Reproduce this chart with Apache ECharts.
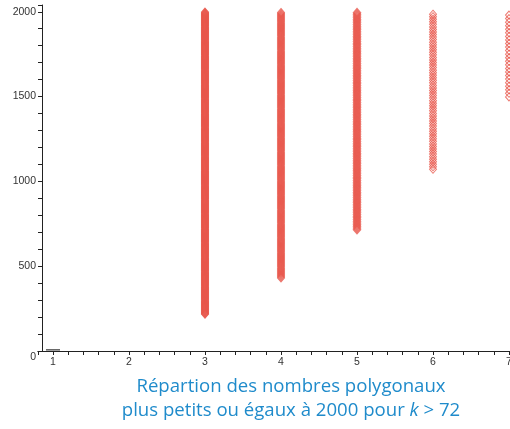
<!DOCTYPE html>
<html><head><meta charset="utf-8">
<script src="https://cdn.jsdelivr.net/npm/echarts@6/dist/echarts.min.js"></script>
<style>html,body{margin:0;padding:0;background:#fff}#c{width:510px;height:429px}</style>
</head><body><div id="c"></div>
<script>
// x positions (n) and polygonal values <= 2000 for k > 72, read per column
const xValues = [3, 4, 5, 6, 7];
const col3 = [216,219,222,225,228,231,234,237,240,243,246,249,252,255,258,261,264,267,270,273,276,279,282,285,288,291,294,297,300,303,306,309,312,315,318,321,324,327,330,333,336,339,342,345,348,351,354,357,360,363,366,369,372,375,378,381,384,387,390,393,396,399,402,405,408,411,414,417,420,423,426,429,432,435,438,441,444,447,450,453,456,459,462,465,468,471,474,477,480,483,486,489,492,495,498,501,504,507,510,513,516,519,522,525,528,531,534,537,540,543,546,549,552,555,558,561,564,567,570,573,576,579,582,585,588,591,594,597,600,603,606,609,612,615,618,621,624,627,630,633,636,639,642,645,648,651,654,657,660,663,666,669,672,675,678,681,684,687,690,693,696,699,702,705,708,711,714,717,720,723,726,729,732,735,738,741,744,747,750,753,756,759,762,765,768,771,774,777,780,783,786,789,792,795,798,801,804,807,810,813,816,819,822,825,828,831,834,837,840,843,846,849,852,855,858,861,864,867,870,873,876,879,882,885,888,891,894,897,900,903,906,909,912,915,918,921,924,927,930,933,936,939,942,945,948,951,954,957,960,963,966,969,972,975,978,981,984,987,990,993,996,999,1002,1005,1008,1011,1014,1017,1020,1023,1026,1029,1032,1035,1038,1041,1044,1047,1050,1053,1056,1059,1062,1065,1068,1071,1074,1077,1080,1083,1086,1089,1092,1095,1098,1101,1104,1107,1110,1113,1116,1119,1122,1125,1128,1131,1134,1137,1140,1143,1146,1149,1152,1155,1158,1161,1164,1167,1170,1173,1176,1179,1182,1185,1188,1191,1194,1197,1200,1203,1206,1209,1212,1215,1218,1221,1224,1227,1230,1233,1236,1239,1242,1245,1248,1251,1254,1257,1260,1263,1266,1269,1272,1275,1278,1281,1284,1287,1290,1293,1296,1299,1302,1305,1308,1311,1314,1317,1320,1323,1326,1329,1332,1335,1338,1341,1344,1347,1350,1353,1356,1359,1362,1365,1368,1371,1374,1377,1380,1383,1386,1389,1392,1395,1398,1401,1404,1407,1410,1413,1416,1419,1422,1425,1428,1431,1434,1437,1440,1443,1446,1449,1452,1455,1458,1461,1464,1467,1470,1473,1476,1479,1482,1485,1488,1491,1494,1497,1500,1503,1506,1509,1512,1515,1518,1521,1524,1527,1530,1533,1536,1539,1542,1545,1548,1551,1554,1557,1560,1563,1566,1569,1572,1575,1578,1581,1584,1587,1590,1593,1596,1599,1602,1605,1608,1611,1614,1617,1620,1623,1626,1629,1632,1635,1638,1641,1644,1647,1650,1653,1656,1659,1662,1665,1668,1671,1674,1677,1680,1683,1686,1689,1692,1695,1698,1701,1704,1707,1710,1713,1716,1719,1722,1725,1728,1731,1734,1737,1740,1743,1746,1749,1752,1755,1758,1761,1764,1767,1770,1773,1776,1779,1782,1785,1788,1791,1794,1797,1800,1803,1806,1809,1812,1815,1818,1821,1824,1827,1830,1833,1836,1839,1842,1845,1848,1851,1854,1857,1860,1863,1866,1869,1872,1875,1878,1881,1884,1887,1890,1893,1896,1899,1902,1905,1908,1911,1914,1917,1920,1923,1926,1929,1932,1935,1938,1941,1944,1947,1950,1953,1956,1959,1962,1965,1968,1971,1974,1977,1980,1983,1986,1989,1992,1995,1998];
const col4 = [430,436,442,448,454,460,466,472,478,484,490,496,502,508,514,520,526,532,538,544,550,556,562,568,574,580,586,592,598,604,610,616,622,628,634,640,646,652,658,664,670,676,682,688,694,700,706,712,718,724,730,736,742,748,754,760,766,772,778,784,790,796,802,808,814,820,826,832,838,844,850,856,862,868,874,880,886,892,898,904,910,916,922,928,934,940,946,952,958,964,970,976,982,988,994,1000,1006,1012,1018,1024,1030,1036,1042,1048,1054,1060,1066,1072,1078,1084,1090,1096,1102,1108,1114,1120,1126,1132,1138,1144,1150,1156,1162,1168,1174,1180,1186,1192,1198,1204,1210,1216,1222,1228,1234,1240,1246,1252,1258,1264,1270,1276,1282,1288,1294,1300,1306,1312,1318,1324,1330,1336,1342,1348,1354,1360,1366,1372,1378,1384,1390,1396,1402,1408,1414,1420,1426,1432,1438,1444,1450,1456,1462,1468,1474,1480,1486,1492,1498,1504,1510,1516,1522,1528,1534,1540,1546,1552,1558,1564,1570,1576,1582,1588,1594,1600,1606,1612,1618,1624,1630,1636,1642,1648,1654,1660,1666,1672,1678,1684,1690,1696,1702,1708,1714,1720,1726,1732,1738,1744,1750,1756,1762,1768,1774,1780,1786,1792,1798,1804,1810,1816,1822,1828,1834,1840,1846,1852,1858,1864,1870,1876,1882,1888,1894,1900,1906,1912,1918,1924,1930,1936,1942,1948,1954,1960,1966,1972,1978,1984,1990,1996];
const col5 = [715,725,735,745,755,765,775,785,795,805,815,825,835,845,855,865,875,885,895,905,915,925,935,945,955,965,975,985,995,1005,1015,1025,1035,1045,1055,1065,1075,1085,1095,1105,1115,1125,1135,1145,1155,1165,1175,1185,1195,1205,1215,1225,1235,1245,1255,1265,1275,1285,1295,1305,1315,1325,1335,1345,1355,1365,1375,1385,1395,1405,1415,1425,1435,1445,1455,1465,1475,1485,1495,1505,1515,1525,1535,1545,1555,1565,1575,1585,1595,1605,1615,1625,1635,1645,1655,1665,1675,1685,1695,1705,1715,1725,1735,1745,1755,1765,1775,1785,1795,1805,1815,1825,1835,1845,1855,1865,1875,1885,1895,1905,1915,1925,1935,1945,1955,1965,1975,1985,1995];
const col6 = [1071,1086,1101,1116,1131,1146,1161,1176,1191,1206,1221,1236,1251,1266,1281,1296,1311,1326,1341,1356,1371,1386,1401,1416,1431,1446,1461,1476,1491,1506,1521,1536,1551,1566,1581,1596,1611,1626,1641,1656,1671,1686,1701,1716,1731,1746,1761,1776,1791,1806,1821,1836,1851,1866,1881,1896,1911,1926,1941,1956,1971,1986];
const col7 = [1498,1519,1540,1561,1582,1603,1624,1645,1666,1687,1708,1729,1750,1771,1792,1813,1834,1855,1876,1897,1918,1939,1960,1981];
const columns = [col3, col4, col5, col6, col7];
const baseMark = [[1, 1]];
const yTickLabels = [0, 500, 1000, 1500, 2000];
const xTickLabels = [1, 2, 3, 4, 5, 6, 7];
const captionLine1 = 'Répartion des nombres polygonaux';
const captionLine2 = 'plus petits ou égaux à 2000 pour {i|k} > 72';

const RED = '#e8594d';
const BORDER = [1, 1, 1.5, 1, 1];
const chart = echarts.init(document.getElementById('c'), null, {renderer: 'canvas'});
const series = columns.map((col, i) => ({
  type: 'scatter',
  symbol: 'diamond',
  symbolSize: [7, 8],
  silent: true,
  itemStyle: {color: 'rgba(0,0,0,0)', borderColor: RED, borderWidth: BORDER[i]},
  data: col.map(v => [xValues[i], v])
}));
series.push({
  type: 'scatter', symbol: 'rect', symbolSize: [14, 1.5], symbolOffset: [0, -1],
  silent: true, itemStyle: {color: '#333'}, data: baseMark
});
const isInt = v => Math.abs(v - Math.round(v)) < 1e-6;
chart.setOption({
  animation: false,
  grid: {left: 37.8, width: 471.2, top: 5, height: 346, outerBoundsMode: 'none', containLabel: false},
  xAxis: {
    type: 'value', min: 0.8, max: 7, interval: 0.2,
    splitLine: {show: false},
    axisLine: {lineStyle: {color: '#222', width: 1}},
    axisTick: {length: 4, lineStyle: {color: '#222'}},
    axisLabel: {
      margin: 6, color: '#333', fontFamily: 'Liberation Sans', fontSize: 10.5,
      showMinLabel: true, showMaxLabel: true, hideOverlap: false,
      formatter: v => (isInt(v) && xTickLabels.includes(Math.round(v))) ? String(Math.round(v)) : ''
    }
  },
  yAxis: {
    type: 'value', min: 0, max: 2040, interval: 100, offset: -4.2,
    splitLine: {show: false},
    axisLine: {show: true, lineStyle: {color: '#222', width: 1}},
    axisTick: {show: true, length: 4, lineStyle: {color: '#222'}},
    axisLabel: {
      margin: 6, color: '#333', fontFamily: 'Liberation Sans', fontSize: 10.5,
      formatter: v => {
        const r = Math.round(v);
        if (!yTickLabels.includes(r)) return '';
        return r === 0 ? '{z|0}' : String(r);
      },
      rich: {z: {padding: [13, 0, 0, 0], color: '#333', fontFamily: 'Liberation Sans', fontSize: 10.5}}
    }
  },
  graphic: [
    {type: 'text', x: 291, y: 387, silent: true,
     style: {text: captionLine1, align: 'center', verticalAlign: 'middle',
       fill: '#1f8bcb', font: '18.6px "Open Sans"'}},
    {type: 'text', x: 291, y: 411, silent: true,
     style: {text: captionLine2, align: 'center', verticalAlign: 'middle',
       fill: '#1f8bcb', font: '18.6px "Open Sans"',
       rich: {i: {fontStyle: 'italic', fontFamily: 'Open Sans', fontSize: 18.6, fill: '#1f8bcb'}}}}
  ],
  series: series
});
</script>
</body></html>
